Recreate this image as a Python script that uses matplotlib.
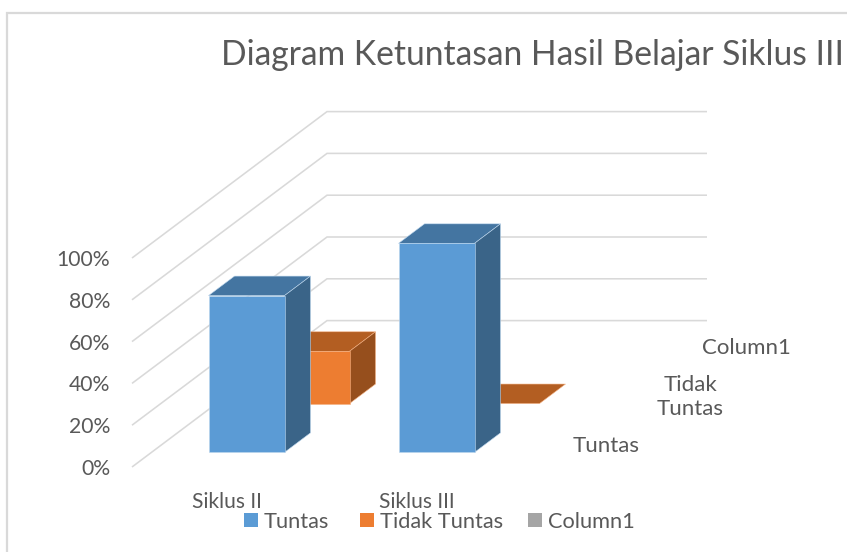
import matplotlib
matplotlib.use("Agg")
import matplotlib.pyplot as plt
from matplotlib.patches import Rectangle

plt.rcParams['font.family'] = ['Lato', 'DejaVu Sans']

title = "Diagram Ketuntasan Hasil Belajar Siklus III"
categories = ["Siklus II", "Siklus III"]
series_names = ["Tuntas", "Tidak Tuntas", "Column1"]
depth_labels = ["Tuntas", "Tidak\nTuntas", "Column1"]
tuntas = [75, 100]
tidak_tuntas = [25, 0]
ticks = [0, 20, 40, 60, 80, 100]
tick_labels = ["0%", "20%", "40%", "60%", "80%", "100%"]

TEXT = "#595959"
GRID = "#D9D9D9"
FRONT = ["#5B9BD5", "#ED7D31"]
TOP = ["#4475A1", "#B35E22"]
SIDE = ["#3A6488", "#964F1D"]

# oblique projection of (category, series depth, percent) onto picture pixels
X0, Y0 = 132.0, 467.0
CAT_W = 190.0
DEPTH_X, DEPTH_Y = 65.0, -48.8
PCT = 2.09
BAR_W = 0.40      # category units
BAR_D = 0.40      # series-slot units


def proj(c, s, v):
    return X0 + c * CAT_W + s * DEPTH_X, Y0 + s * DEPTH_Y - v * PCT


fig = plt.figure(figsize=(8.47, 5.52), dpi=100, facecolor="white")
ax = fig.add_axes([0, 0, 1, 1])
ax.set_xlim(0, 847)
ax.set_ylim(552, 0)
ax.axis("off")

# chart frame
ax.add_patch(Rectangle((6.5, 12.5), 900, 600, fc="white", ec=GRID, lw=1.6, zorder=0))

# walls: gridlines
for t, lab in zip(ticks, tick_labels):
    p0 = proj(0, 0, t)
    p1 = proj(0, 3, t)
    p2 = proj(2, 3, t)
    ax.plot([p0[0], p1[0], p2[0]], [p0[1], p1[1], p2[1]], color=GRID, lw=1.15,
            solid_joinstyle="miter", solid_capstyle="butt", zorder=1)
    ax.text(p0[0] - 22, p0[1] + 2, lab, ha="right", va="center", color=TEXT, fontsize=15.2)


def bar(c_idx, s_idx, value):
    cl = c_idx + 0.5 - BAR_W / 2
    cr = c_idx + 0.5 + BAR_W / 2
    sf = s_idx + 0.5 - BAR_D / 2
    sb = s_idx + 0.5 + BAR_D / 2
    z = 2 + s_idx * -1 + c_idx * 2 + 1
    edge = "#BDD7EE" if s_idx == 0 else "#F4B183"
    kw = dict(edgecolor=edge, linewidth=0.4, zorder=z)
    top = [proj(cl, sf, value), proj(cr, sf, value), proj(cr, sb, value), proj(cl, sb, value)]
    ax.fill(*zip(*top), facecolor=TOP[s_idx], **kw)
    if value > 0:
        side = [proj(cr, sf, 0), proj(cr, sb, 0), proj(cr, sb, value), proj(cr, sf, value)]
        front = [proj(cl, sf, 0), proj(cr, sf, 0), proj(cr, sf, value), proj(cl, sf, value)]
        ax.fill(*zip(*side), facecolor=SIDE[s_idx], **kw)
        ax.fill(*zip(*front), facecolor=FRONT[s_idx], **kw)


for i, vals in enumerate([tuntas, tidak_tuntas]):
    for c, v in enumerate(vals):
        bar(c, i, v)

# title
ax.text(221, 55, title, ha="left", va="center", color=TEXT, fontsize=24.2)

# category labels
for c, lab in enumerate(categories):
    x, _ = proj(c + 0.5, 0, 0)
    ax.text(x, 501.5, lab, ha="center", va="center", color=TEXT, fontsize=15.1)

# depth-axis labels
depth_pos = [(606, 446.5), (690, 397), (746, 348.5)]
for (x, y), lab in zip(depth_pos, depth_labels):
    ax.text(x, y, lab, ha="center", va="center", color=TEXT, fontsize=16, linespacing=1.25)

# legend
leg_sw = [244, 360, 528]
leg_col = ["#5B9BD5", "#ED7D31", "#A5A5A5"]
for x, name, col in zip(leg_sw, series_names, leg_col):
    ax.add_patch(Rectangle((x, 513), 14, 14, fc=col, ec="none", zorder=3))
    ax.text(x + 20, 521.5, name, ha="left", va="center", color=TEXT, fontsize=15.7)

fig.savefig("out.png", dpi=100)
